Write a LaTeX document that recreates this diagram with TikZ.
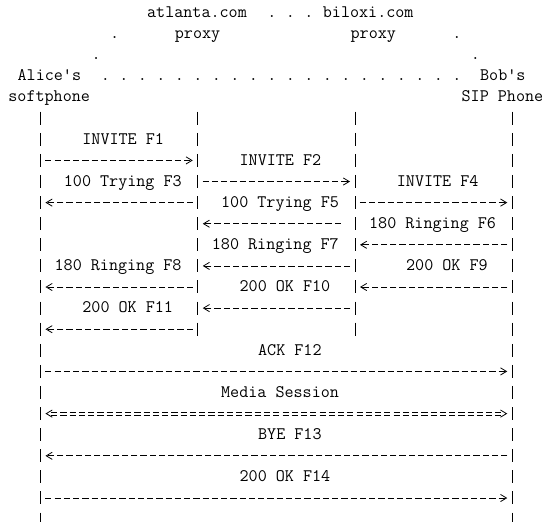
\documentclass[tikz,border=0pt]{standalone}
\usepackage{tikz}
\usetikzlibrary{arrows.meta}

\newcommand{\sipfont}{\fontsize{13.2}{15.8}\selectfont\ttfamily}

\begin{document}
\begin{tikzpicture}[
  lbl/.style={anchor=base west, inner sep=0pt, font=\sipfont},
  life/.style={line width=0.65pt, dash pattern=on 9.75pt off 6.075pt,
    shorten <=-4.9pt, shorten >=-4.9pt},
  msg/.style={line width=0.6pt, dash pattern=on 4.65pt off 2.29pt,
    shorten <=3.6pt, shorten >=3.75pt,
    -{Straight Barb[length=4.5pt, width=5.4pt, line width=0.6pt]}},
  media/.style={line width=0.55pt, dash pattern=on 4.65pt off 2.29pt,
    shorten <=8pt, shorten >=8.2pt},
  mediatip/.style={line width=0.6pt, dash pattern=on 0pt off 600pt,
    shorten <=3.75pt, shorten >=3.75pt,
    {Straight Barb[length=4.5pt, width=5.4pt, line width=0.6pt]}-{Straight Barb[length=4.5pt, width=5.4pt, line width=0.6pt]}}]
\def\u{6.9375pt}
\def\v{15.825pt}
\useasboundingbox (6.122*\u, 0.602*\v) rectangle (65.797*\u, -24.137*\v);

% the two proxies and the phones
\node[lbl] (atl) at (22*\u, -0.227*\v) {atlanta.com};
\node[lbl] (bil) at (41*\u, -0.227*\v) {biloxi.com};
\node[lbl] (atlp) at (25*\u, -1.227*\v) {proxy};
\node[lbl] (bilp) at (44*\u, -1.227*\v) {proxy};
\node[lbl] (alice) at (8*\u, -3.227*\v) {Alice\textquotesingle s};
\node[lbl] (alicesp) at (7*\u, -4.227*\v) {softphone};
\node[lbl] (bob) at (58*\u, -3.227*\v) {Bob\textquotesingle s};
\node[lbl] (bobsip) at (56*\u, -4.227*\v) {SIP Phone};

% dotted cloud
\foreach \c/\r in {35/0,37/0,39/0,18/1,55/1,16/2,57/2}
  \node[lbl] (dot\c-\r) at (\c*\u, -\r*\v-0.227*\v) {.};
\foreach \c in {17,19,...,55}
  \node[lbl] (dot\c-3) at (\c*\u, -3.227*\v) {.};

% lifelines
\foreach \r in {5,...,24} {
  \coordinate (A\r) at (10.5*\u, -\r*\v);
  \coordinate (D\r) at (61.5*\u, -\r*\v);
}
\foreach \r in {5,...,15} {
  \coordinate (B\r) at (27.5*\u, -\r*\v);
  \coordinate (C\r) at (44.5*\u, -\r*\v);
}
\draw[life] (A5) -- (A24);
\draw[life] (B5) -- (B15);
\draw[life] (C5) -- (C15);
\draw[life] (D5) -- (D24);

% messages
\node[lbl] (f1) at (15*\u, -6.227*\v) {INVITE F1};
\node[lbl] (f2) at (32*\u, -7.227*\v) {INVITE F2};
\node[lbl] (f3) at (13*\u, -8.227*\v) {100 Trying F3};
\node[lbl] (f4) at (49*\u, -8.227*\v) {INVITE F4};
\node[lbl] (f5) at (30*\u, -9.227*\v) {100 Trying F5};
\node[lbl] (f6) at (46*\u, -10.227*\v) {180 Ringing F6};
\node[lbl] (f7) at (29*\u, -11.227*\v) {180 Ringing F7};
\node[lbl] (f8) at (12*\u, -12.227*\v) {180 Ringing F8};
\node[lbl] (f9) at (50*\u, -12.227*\v) {200 OK F9};
\node[lbl] (f10) at (32*\u, -13.227*\v) {200 OK F10};
\node[lbl] (f11) at (15*\u, -14.227*\v) {200 OK F11};
\node[lbl] (f12) at (34*\u, -16.227*\v) {ACK F12};
\node[lbl] (ms) at (30*\u, -18.227*\v) {Media Session};
\node[lbl] (f13) at (34*\u, -20.227*\v) {BYE F13};
\node[lbl] (f14) at (32*\u, -22.227*\v) {200 OK F14};

\draw[msg] (A7) -- (B7);
\draw[msg] (B8) -- (C8);
\draw[msg] (B9) -- (A9);
\draw[msg] (C9) -- (D9);
\draw[msg, shorten <=10.6pt] (C10) -- (B10);
\draw[msg] (D11) -- (C11);
\draw[msg] (C12) -- (B12);
\draw[msg] (B13) -- (A13);
\draw[msg] (D13) -- (C13);
\draw[msg] (C14) -- (B14);
\draw[msg] (B15) -- (A15);
\draw[msg] (A17) -- (D17);
% media session, drawn as a double line
\draw[media, transform canvas={yshift=1.15pt}] (A19) -- (D19);
\draw[media, transform canvas={yshift=-1.15pt}] (A19) -- (D19);
\draw[mediatip] (A19) -- (D19);
\draw[msg] (D21) -- (A21);
\draw[msg] (A23) -- (D23);
\end{tikzpicture}
\end{document}
